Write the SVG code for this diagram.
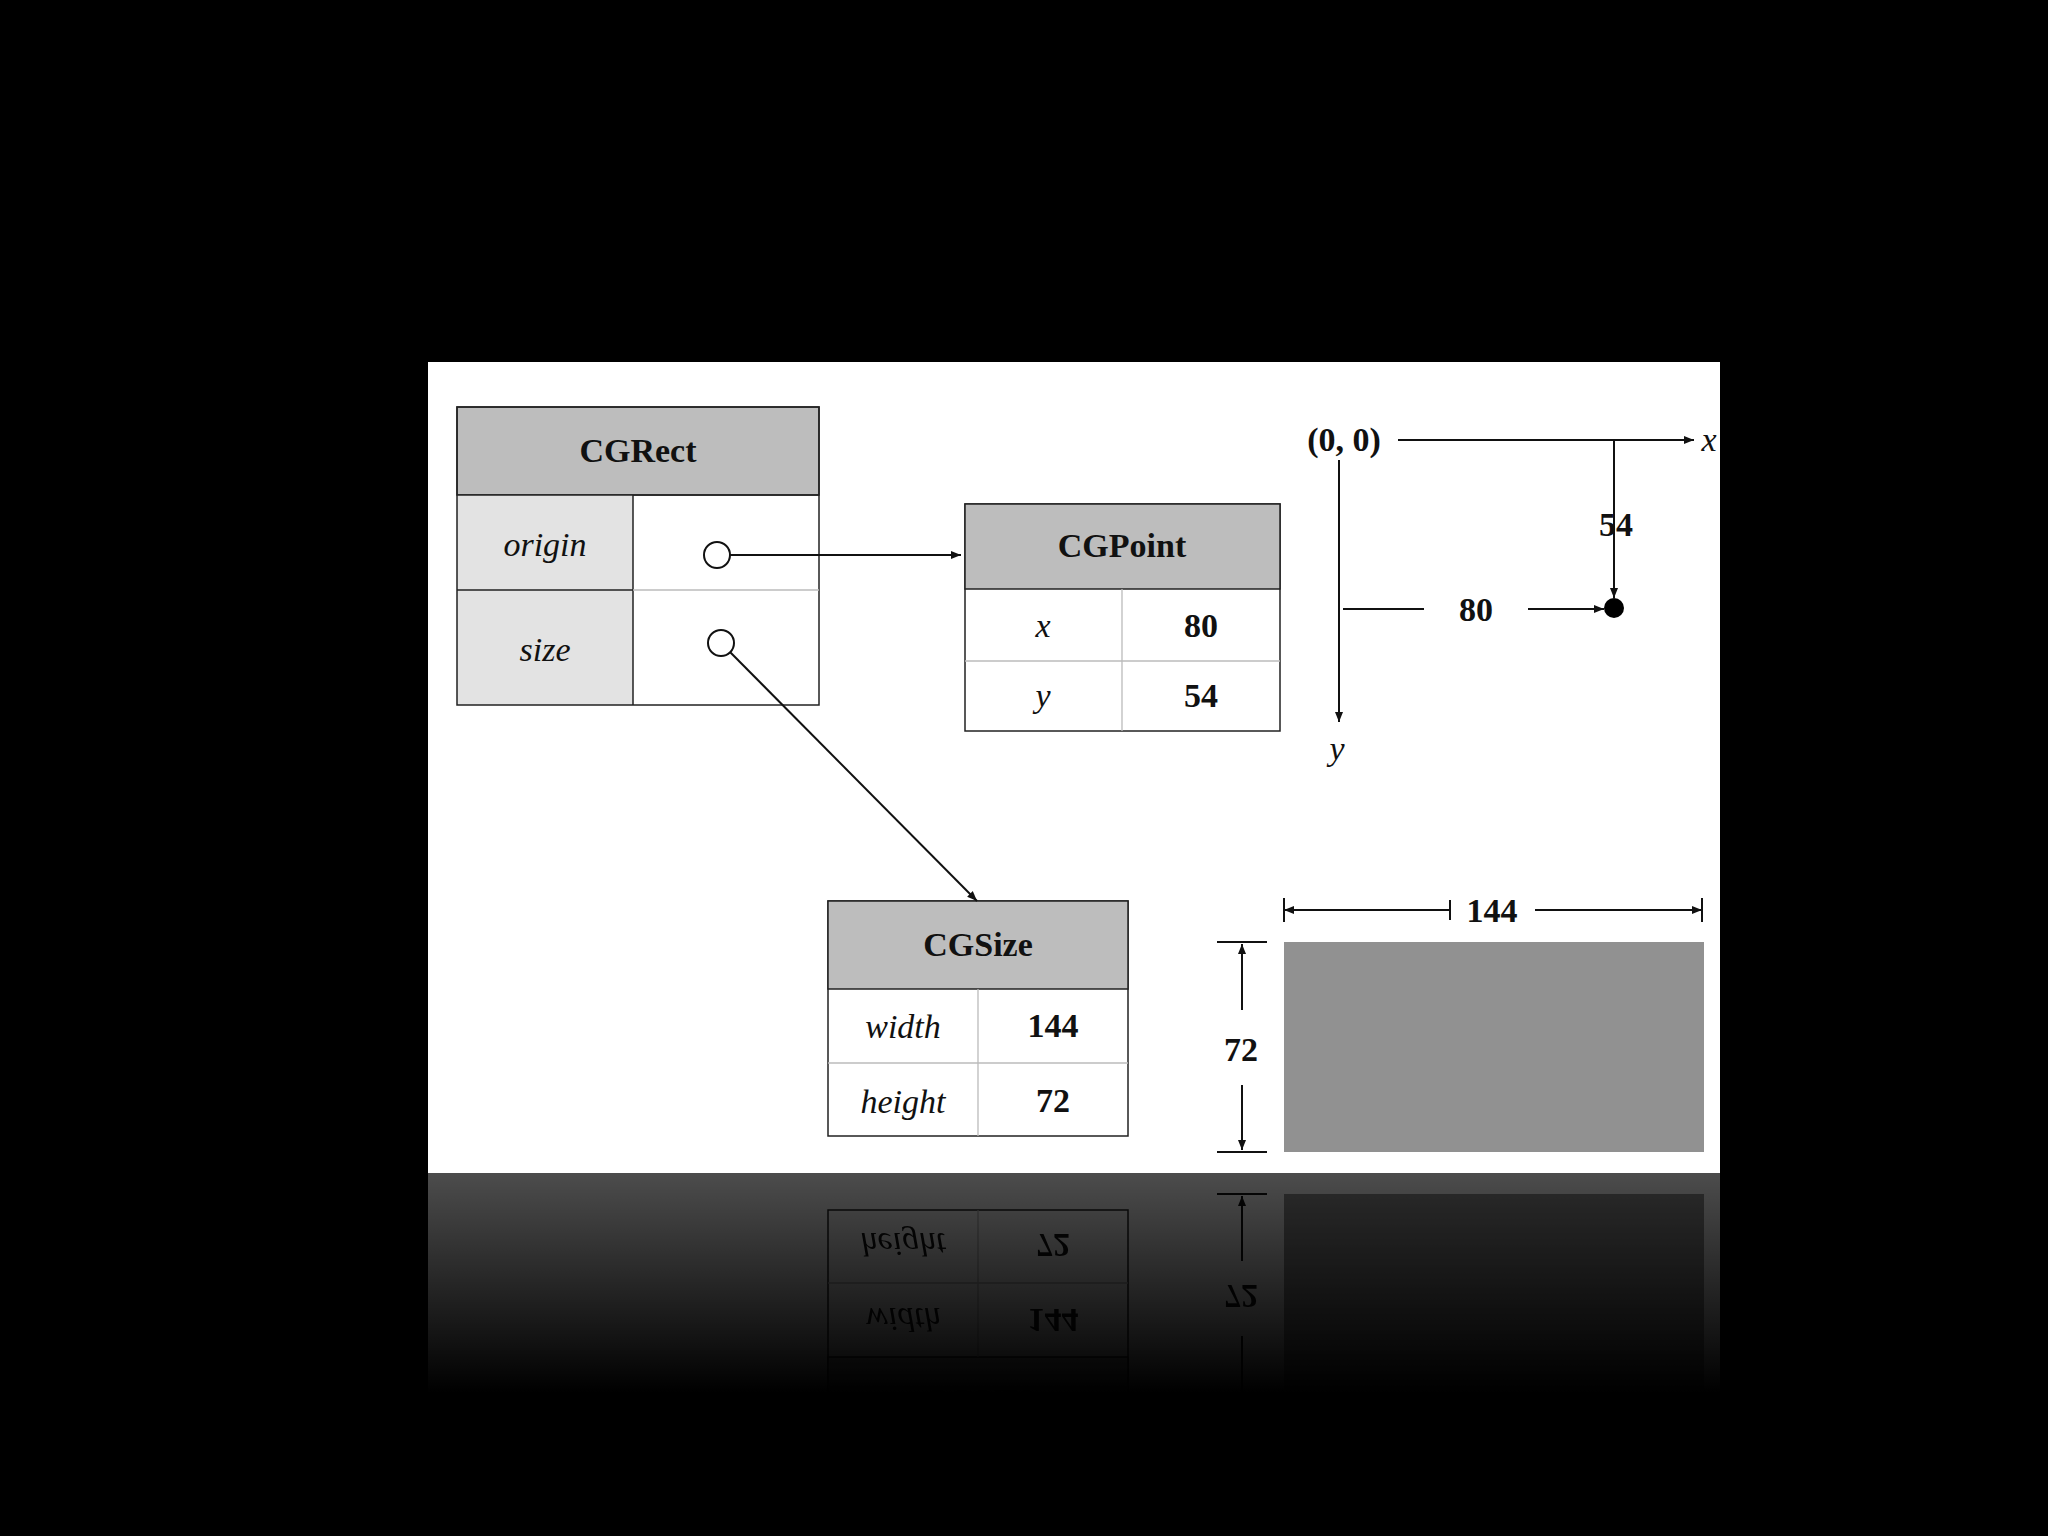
<svg xmlns="http://www.w3.org/2000/svg" xmlns:xlink="http://www.w3.org/1999/xlink" width="2048" height="1536" viewBox="0 0 2048 1536">
<defs>
<style>
.hd{fill:#bdbdbd;stroke:#222;stroke-width:1.5}
.lab{fill:#e3e3e3}
.bx{fill:#fff;stroke:#222;stroke-width:1.5}
.gl{stroke:#bbb;stroke-width:1.3}
.bl{stroke:#222;stroke-width:1.5}
text{font-family:"Liberation Serif","DejaVu Serif",serif;font-size:34px;text-anchor:middle;fill:#111}
.b{font-weight:bold}
.i{font-style:italic}
.ln{stroke:#111;stroke-width:2;fill:none}
</style>
<marker id="ah" viewBox="0 0 10 10" refX="10" refY="5" markerWidth="10" markerHeight="10" orient="auto" markerUnits="userSpaceOnUse"><path d="M0,1 L10,5 L0,9 z" fill="#111"/></marker>
<marker id="tk" viewBox="0 0 2 20" refX="1" refY="10" markerWidth="2" markerHeight="20" orient="auto" markerUnits="userSpaceOnUse"><rect x="0" y="0" width="2" height="20" fill="#111"/></marker>
<linearGradient id="fg" x1="0" y1="0" x2="0" y2="1"><stop offset="0" stop-color="#fff" stop-opacity="0.3"/><stop offset="1" stop-color="#fff" stop-opacity="0"/></linearGradient>
<mask id="rm" maskUnits="userSpaceOnUse" x="0" y="1173" width="2048" height="220"><rect x="0" y="1173" width="2048" height="220" fill="url(#fg)"/></mask>
</defs>
<rect width="2048" height="1536" fill="#000"/>
<g id="content">
<rect x="428" y="362" width="1292" height="811" fill="#fff"/>
<g id="cgrect">
<rect x="457" y="407" width="362" height="88" class="hd"/>
<rect x="457" y="495" width="176" height="210" class="lab"/>
<rect x="457" y="407" width="362" height="298" fill="none" stroke="#222" stroke-width="1.5"/>
<line x1="457" y1="495" x2="819" y2="495" class="bl"/>
<line x1="633" y1="495" x2="633" y2="705" class="bl"/>
<line x1="457" y1="590" x2="633" y2="590" class="bl"/>
<line x1="633" y1="590" x2="819" y2="590" class="gl"/>
<text x="638" y="462" class="b">CGRect</text>
<text x="545" y="556" class="i">origin</text>
<text x="545" y="661" class="i">size</text>
<circle cx="717" cy="555" r="13" fill="#fff" stroke="#111" stroke-width="2"/>
<circle cx="721" cy="643" r="13" fill="#fff" stroke="#111" stroke-width="2"/>
</g>
<g id="cgpoint">
<rect x="965" y="504" width="315" height="227" class="bx"/>
<rect x="965" y="504" width="315" height="85" class="hd"/>
<line x1="965" y1="661" x2="1280" y2="661" class="gl"/>
<line x1="1122" y1="589" x2="1122" y2="731" class="gl"/>
<text x="1122" y="557" class="b">CGPoint</text>
<text x="1043" y="637" class="i">x</text>
<text x="1201" y="637" class="b">80</text>
<text x="1043" y="707" class="i">y</text>
<text x="1201" y="707" class="b">54</text>
</g>
<g id="cgsize">
<rect x="828" y="901" width="300" height="235" class="bx"/>
<rect x="828" y="901" width="300" height="88" class="hd"/>
<line x1="828" y1="1063" x2="1128" y2="1063" class="gl"/>
<line x1="978" y1="989" x2="978" y2="1136" class="gl"/>
<text x="978" y="956" class="b">CGSize</text>
<text x="903" y="1038" class="i">width</text>
<text x="1053" y="1037" class="b">144</text>
<text x="903" y="1113" class="i">height</text>
<text x="1053" y="1112" class="b">72</text>
</g>
<g id="connectors">
<line x1="730" y1="555" x2="961" y2="555" class="ln" marker-end="url(#ah)"/>
<line x1="730" y1="652" x2="977" y2="901" class="ln" marker-end="url(#ah)"/>
</g>
<g id="axes">
<text x="1344" y="451" class="b">(0, 0)</text>
<line x1="1398" y1="440" x2="1694" y2="440" class="ln" stroke-width="1.5" marker-end="url(#ah)"/>
<text x="1709" y="451" class="i">x</text>
<line x1="1339" y1="460" x2="1339" y2="722" class="ln" stroke-width="1.5" marker-end="url(#ah)"/>
<text x="1337" y="760" class="i">y</text>
<line x1="1614" y1="440" x2="1614" y2="598" class="ln" stroke-width="1.5" marker-end="url(#ah)"/>
<text x="1616" y="536" class="b">54</text>
<line x1="1343" y1="609" x2="1424" y2="609" class="ln" stroke-width="1.5"/>
<line x1="1528" y1="609" x2="1604" y2="609" class="ln" stroke-width="1.5" marker-end="url(#ah)"/>
<text x="1476" y="621" class="b">80</text>
<circle cx="1614" cy="608" r="10" fill="#000"/>
</g>
<g id="sizebox">
<rect x="1284" y="942" width="420" height="210" fill="#919191"/>
<line x1="1284" y1="910" x2="1450" y2="910" class="ln" stroke-width="1.5" marker-start="url(#tk)" marker-end="url(#ah)" transform="rotate(180 1367 910)"/>
<line x1="1535" y1="910" x2="1702" y2="910" class="ln" stroke-width="1.5" marker-end="url(#ah)"/>
<line x1="1284" y1="898" x2="1284" y2="922" class="ln" stroke-width="1.5"/>
<line x1="1702" y1="898" x2="1702" y2="922" class="ln" stroke-width="1.5"/>
<text x="1492" y="922" class="b">144</text>
<line x1="1242" y1="1010" x2="1242" y2="944" class="ln" stroke-width="1.5" marker-end="url(#ah)"/>
<line x1="1242" y1="1085" x2="1242" y2="1150" class="ln" stroke-width="1.5" marker-end="url(#ah)"/>
<line x1="1217" y1="942" x2="1267" y2="942" class="ln" stroke-width="1.5"/>
<line x1="1217" y1="1152" x2="1267" y2="1152" class="ln" stroke-width="1.5"/>
<text x="1241" y="1061" class="b">72</text>
</g>
</g>
<g mask="url(#rm)">
<use xlink:href="#content" transform="translate(0 2346) scale(1 -1)"/>
</g>
</svg>
